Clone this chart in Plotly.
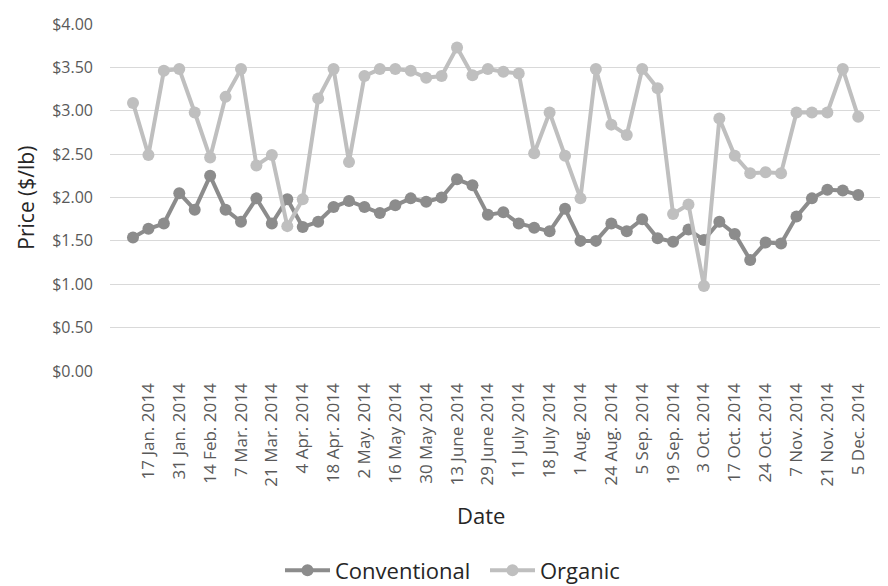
import plotly.graph_objects as go

dates = [
    "10 Jan. 2014", "17 Jan. 2014", "24 Jan. 2014", "31 Jan. 2014", "7 Feb. 2014", "14 Feb. 2014",
    "28 Feb. 2014", "7 Mar. 2014", "14 Mar. 2014", "21 Mar. 2014", "28 Mar. 2014", "4 Apr. 2014",
    "11 Apr. 2014", "18 Apr. 2014", "25 Apr. 2014", "2 May. 2014", "9 May 2014", "16 May 2014",
    "23 May 2014", "30 May 2014", "6 June 2014", "13 June 2014", "20 June 2014", "29 June 2014",
    "4 July 2014", "11 July 2014", "15 July 2014", "18 July 2014", "25 July 2014", "1 Aug. 2014",
    "15 Aug. 2014", "24 Aug. 2014", "29 Aug. 2014", "5 Sep. 2014", "12 Sep. 2014", "19 Sep. 2014",
    "26 Sep. 2014", "3 Oct. 2014", "10 Oct. 2014", "17 Oct. 2014", "21 Oct. 2014", "24 Oct. 2014",
    "31 Oct. 2014", "7 Nov. 2014", "14 Nov. 2014", "21 Nov. 2014", "28 Nov. 2014", "5 Dec. 2014",
]

conventional = [
    1.54, 1.64, 1.70, 2.05, 1.86, 2.25, 1.86, 1.72, 1.99, 1.70, 1.98, 1.66,
    1.72, 1.89, 1.96, 1.89, 1.82, 1.91, 1.99, 1.95, 2.00, 2.21, 2.14, 1.80,
    1.83, 1.70, 1.65, 1.61, 1.87, 1.50, 1.50, 1.70, 1.61, 1.75, 1.53, 1.49,
    1.63, 1.51, 1.72, 1.58, 1.28, 1.48, 1.47, 1.78, 1.99, 2.09, 2.08, 2.03,
]

organic = [
    3.09, 2.49, 3.46, 3.48, 2.98, 2.46, 3.16, 3.48, 2.37, 2.49, 1.67, 1.98,
    3.14, 3.48, 2.41, 3.40, 3.48, 3.48, 3.46, 3.38, 3.40, 3.73, 3.41, 3.48,
    3.45, 3.43, 2.51, 2.98, 2.48, 1.99, 3.48, 2.84, 2.72, 3.48, 3.26, 1.81,
    1.92, 0.98, 2.91, 2.48, 2.28, 2.29, 2.28, 2.98, 2.98, 2.98, 3.48, 2.93,
]

tick_labels = dates[1::2]

y_ticks = [0, 0.5, 1.0, 1.5, 2.0, 2.5, 3.0, 3.5, 4.0]
y_tick_text = ["$0.00", "$0.50", "$1.00", "$1.50", "$2.00", "$2.50", "$3.00", "$3.50", "$4.00"]

FONT = "Open Sans"
CONV_COLOR = "#8c8c8c"
ORG_COLOR = "#bfbfbf"

fig = go.Figure()
fig.add_trace(go.Scatter(
    x=dates, y=conventional, name="Conventional", mode="lines+markers",
    line=dict(color=CONV_COLOR, width=4),
    marker=dict(color=CONV_COLOR, size=12),
))
fig.add_trace(go.Scatter(
    x=dates, y=organic, name="Organic", mode="lines+markers",
    line=dict(color=ORG_COLOR, width=4),
    marker=dict(color=ORG_COLOR, size=12),
))

fig.update_layout(
    width=880, height=578,
    margin=dict(l=102, r=0, t=16, b=215, autoexpand=False),
    paper_bgcolor="white", plot_bgcolor="white",
    font=dict(family=FONT, color="#595959", size=14),
    showlegend=True,
    legend=dict(
        orientation="h", x=0.2185, xanchor="left",
        yref="container", y=0.027, yanchor="middle",
        font=dict(family=FONT, size=22, color="#262626"),
        itemwidth=45, tracegroupgap=0, traceorder="normal",
        entrywidth=145,
    ),
    xaxis=dict(
        type="category", categoryorder="array", categoryarray=dates,
        range=[-1.49, 48.93], automargin=False,
        tickmode="array", tickvals=tick_labels, ticktext=tick_labels,
        tickangle=-90, showgrid=False, zeroline=False, showline=False,
        ticks="", ticklen=0, ticklabelstandoff=8,
        tickfont=dict(family=FONT, size=17, color="#595959"),
    ),
    yaxis=dict(
        range=[0, 4], automargin=False,
        tickmode="array", tickvals=y_ticks, ticktext=y_tick_text,
        showgrid=True, gridcolor="#d9d9d9", gridwidth=1,
        zeroline=False, showline=False, ticks="",
        ticklabelstandoff=16,
        tickfont=dict(family=FONT, size=16, color="#595959"),
    ),
    annotations=[
        dict(text="Price ($/lb)", xref="paper", yref="paper", x=-0.109, y=0.5,
             xanchor="center", yanchor="middle", textangle=-90, showarrow=False,
             font=dict(family=FONT, size=21, color="#262626")),
        dict(text="Date", xref="paper", yref="paper", x=0.4775, y=-0.415,
             xanchor="center", yanchor="middle", showarrow=False,
             font=dict(family=FONT, size=22, color="#262626")),
    ],
)

fig.write_html("out.html")
